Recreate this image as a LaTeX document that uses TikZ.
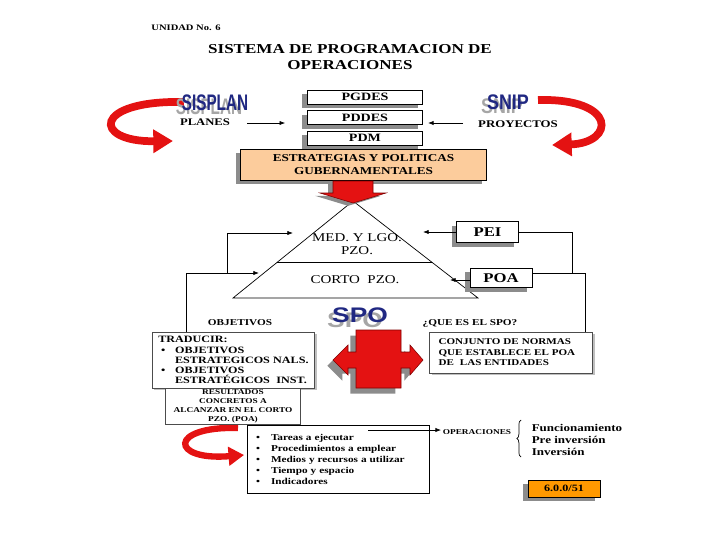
\documentclass[tikz,border=0pt]{standalone}
\usepackage{fontspec}
\setmainfont{Liberation Serif}[FakeStretch=1.25]
\setsansfont{Liberation Sans}
\usetikzlibrary{arrows.meta,shadows,calc,decorations.pathreplacing}
\definecolor{peach}{RGB}{252,204,156}
\definecolor{codeorange}{RGB}{255,153,0}
\definecolor{logoblue}{RGB}{32,40,130}
\definecolor{ribbonred}{RGB}{228,18,18}
\newcommand{\fsz}[2]{\fontsize{#1}{#2}\selectfont}
\newcommand{\bul}{\makebox[10.5pt][l]{\textbullet}}
\newcommand{\tbul}{\hspace*{3.5pt}\makebox[10pt][l]{\textbullet}}
\newcommand{\tind}{\hspace*{13.5pt}}
\tikzset{%
  >={Latex[length=4pt,width=3pt]},
  % Specifications for style of nodes:
      txt/.style = {inner sep=1pt, font=\bfseries},
     base/.style = {rectangle, draw=black, fill=white, inner sep=1pt, font=\bfseries},
   shleft/.style = {drop shadow={shadow xshift=-3.5pt, shadow yshift=-3pt, fill=black!45, opacity=1}},
  shright/.style = {drop shadow={shadow xshift=1.5pt, shadow yshift=-1.5pt, fill=black!25, opacity=1}},
     plan/.style = {base, shleft, minimum width=82pt, minimum height=10pt, font=\bfseries\fsz{8}{9}},
   estrat/.style = {base, shleft, fill=peach, minimum width=175pt, minimum height=22pt,
                    align=center, font=\bfseries\fsz{7.5}{9}},
    plazo/.style = {base, shleft, minimum width=44pt, minimum height=15pt, font=\bfseries\fsz{9.5}{10}},
     list/.style = {base, shright, draw=black!70, align=left},
     logo/.style = {inner sep=0pt, text=logoblue, font=\sffamily\bfseries},
   logosh/.style = {logo, text=black!35},
   ribbon/.style = {line width=5.5pt, draw=ribbonred, -{Triangle[length=14pt,width=16pt]}},
   blocky/.style = {fill=ribbonred, draw=red!50!black, line width=0.4pt},
}
\begin{document}
\begin{tikzpicture}[x=0.025cm, y=-0.025cm, node distance=14.6pt, line width=0.5pt]
  \useasboundingbox (0,0) rectangle (720,540);

  % Specification of nodes (position, etc.)
  \node (onUnidad) [txt, font=\bfseries\fsz{6}{7}] at (186,28) {UNIDAD No. 6};
  \node (onTitle)  [txt, font=\bfseries\fsz{9.7}{12}, align=center] at (350,57)
        {SISTEMA DE PROGRAMACION DE\\OPERACIONES};

  % red ribbons (behind the logos)
  \coordinate (rl1) at (184,102); \coordinate (rl2) at (173,141);
  \coordinate (rr1) at (538,100); \coordinate (rr2) at (552,145);
  \coordinate (rb1) at (238,428); \coordinate (rb2) at (244,455);
  \draw[ribbon] (rl1) .. controls (92,100) and (92,142) .. (rl2);
  \draw[ribbon] (rr1) .. controls (618,98) and (615,143) .. (rr2);
  \draw[ribbon, line width=4.5pt, -{Triangle[length=11pt,width=13pt]}]
        (rb1) .. controls (168,426) and (170,461) .. (rb2);

  \node (onSisplanSh) [logosh] at (209,107) {\scalebox{0.68}[1]{\fsz{16}{16}SISPLAN}};
  \node (onSisplan)   [logo]   at (215,103) {\scalebox{0.68}[1]{\fsz{16}{16}SISPLAN}};
  \node (onPlanes)    [txt, font=\bfseries\fsz{7.2}{8}] at (205,122) {PLANES};
  \node (onSnipSh)    [logosh] at (502,106) {\scalebox{0.85}[1]{\fsz{15}{15}SNIP}};
  \node (onSnip)      [logo]   at (508,102) {\scalebox{0.85}[1]{\fsz{15}{15}SNIP}};
  \node (onProyectos) [txt, font=\bfseries\fsz{7.3}{8}] at (518,124) {PROYECTOS};

  \node (onPgdes)  [plan] at (365,97) {PGDES};
  \node (onPddes)  [plan, below of=onPgdes] {PDDES};
  \node (onPdm)    [plan, below of=onPddes] {PDM};
  \node (onEstrat) [estrat] at (363.5,164.5) {ESTRATEGIAS Y POLITICAS\\GUBERNAMENTALES};

  % pyramid of plazos
  \coordinate (apex) at (353,201);
  \coordinate (bl) at (233,298);
  \coordinate (br) at (478,298);
  \draw (bl) -- (apex) -- (br) -- cycle;
  \draw ($(apex)!0.633!(bl)$) -- ($(apex)!0.633!(br)$);
  \node (onMed)   [txt, font=\fsz{8.5}{9}, align=center] at (357,244) {MED. Y LGO.\\PZO.};
  \node (onCorto) [txt, font=\fsz{8.5}{9}] at (355,280) {CORTO\ \ PZO.};

  % red block arrow down
  \fill[black!45, xshift=-3.5pt, yshift=-2pt]
        (333,181) -- (373,181) -- (373,193) -- (386,193) -- (353,203) -- (320,193) -- (333,193) -- cycle;
  \draw[blocky]
        (333,181) -- (373,181) -- (373,193) -- (386,193) -- (353,203) -- (320,193) -- (333,193) -- cycle;

  \node (onPei) [plazo] at (487.5,232) {PEI};
  \node (onPoa) [plazo, minimum height=14pt] at (501,278) {POA};

  \node (onSpoSh) [logosh] at (355,320) {\scalebox{1.25}[1]{\fsz{15}{15}SPO}};
  \node (onSpo)   [logo]   at (360,315) {\scalebox{1.25}[1]{\fsz{15}{15}SPO}};
  \node (onObjetivos) [txt, font=\bfseries\fsz{6.4}{7}] at (240,323) {OBJETIVOS};
  \node (onQueEs)     [txt, font=\bfseries\fsz{6.4}{7}] at (470,323) {¿QUE ES EL SPO?};

  \node (onTraducir) [list, minimum width=115.5pt, minimum height=39.7pt, text width=110pt,
        inner xsep=2.75pt, font=\bfseries\fsz{6.9}{7.2}] at (233.5,360)
        {\hspace*{1.5pt}TRADUCIR:\\\tbul OBJETIVOS\\\tind ESTRATEGICOS NALS.\\\tbul OBJETIVOS\\
         \tind ESTRATÉGICOS\ \ INST.};
  \node (onResult) [base, draw=black!70, minimum width=96pt, minimum height=25.5pt, align=center,
        font=\bfseries\fsz{5.3}{6.3}] at (233,406.5)
        {RESULTADOS\\CONCRETOS A\\ALCANZAR EN EL CORTO\\PZO. (POA)};
  \node (onConjunto) [list, minimum width=116pt, minimum height=29pt, text width=103pt,
        inner xsep=6.5pt, font=\bfseries\fsz{6.3}{7.4}] at (511,352.5)
        {CONJUNTO DE NORMAS\\QUE ESTABLECE EL POA\\DE\ \ LAS ENTIDADES\\[5pt]};

  % red cross with double arrow
  \fill[black!45, xshift=-4pt, yshift=-4pt]
        (356,330) -- (401,330) -- (401,352) -- (410,352) -- (410,345) -- (423,360) -- (410,375) -- (410,368)
        -- (401,368) -- (401,388) -- (356,388) -- (356,368) -- (348,368) -- (348,375) -- (333,360)
        -- (348,345) -- (348,352) -- (356,352) -- cycle;
  \draw[blocky]
        (356,330) -- (401,330) -- (401,352) -- (410,352) -- (410,345) -- (423,360) -- (410,375) -- (410,368)
        -- (401,368) -- (401,388) -- (356,388) -- (356,368) -- (348,368) -- (348,375) -- (333,360)
        -- (348,345) -- (348,352) -- (356,352) -- cycle;

  \node (onTareas) [base, minimum width=129.7pt, minimum height=48.2pt, text width=117pt,
        inner xsep=6.3pt, align=left, font=\bfseries\fsz{6.4}{7.8}] at (338.5,459)
        {\bul Tareas a ejecutar\\\bul Procedimientos a emplear\\\bul Medios y recursos a utilizar\\
         \bul Tiempo y espacio\\\bul Indicadores\\[5pt]};
  \node (onOper) [txt, font=\bfseries\fsz{5.3}{6}] at (477,432) {OPERACIONES};
  \node (onFunc) [txt, anchor=west, align=left, font=\bfseries\fsz{7.4}{8.5}] at (530,440)
        {Funcionamiento\\Pre inversión\\Inversión};
  \node (onCode) [base, shleft, fill=codeorange, minimum width=51pt, minimum height=12pt,
        font=\bfseries\fsz{6.9}{7}] at (564,488.5) {6.0.0/51\hspace{8pt}};

  % Specification of lines between nodes specified above
  \coordinate (plout) at (247,123);
  \coordinate (pyout) at (463,123);
  \draw[->, shorten >=15.5pt] (plout) -- (onPddes.west |- plout);
  \draw[->, shorten >=3.5pt]  (pyout) -- (onPddes.east |- pyout);

  \coordinate (peiin)  at (423,232);
  \coordinate (poain)  at (450,280);
  \coordinate (jr1)    at (572,273);
  \coordinate (jr2)    at (585,273);
  \draw[->] (onPei.west) -- (peiin);
  \draw[->] (onPoa.west |- poain) -- (poain);
  \draw (onPei.east) -| (jr1);
  \draw (onPoa.east |- jr1) -- (jr2) -- (jr2 |- onConjunto.north);

  \coordinate (jl1)     at (186,273);
  \coordinate (jl2)     at (227,273);
  \coordinate (cortoin) at (259,273);
  \coordinate (medin)   at (293,233);
  \draw[->] (onTraducir.north -| jl1) -- (jl1) -- (cortoin);
  \draw[->] (jl2) |- (medin);

  \coordinate (tarout) at (368,430);
  \draw[->] (tarout) -- (onOper.west |- tarout);
  \coordinate (brlo) at (521,457);
  \coordinate (brhi) at (521,420);
  \draw[decorate, decoration={brace, amplitude=3pt}] (brlo) -- (brhi);
\end{tikzpicture}
\end{document}
